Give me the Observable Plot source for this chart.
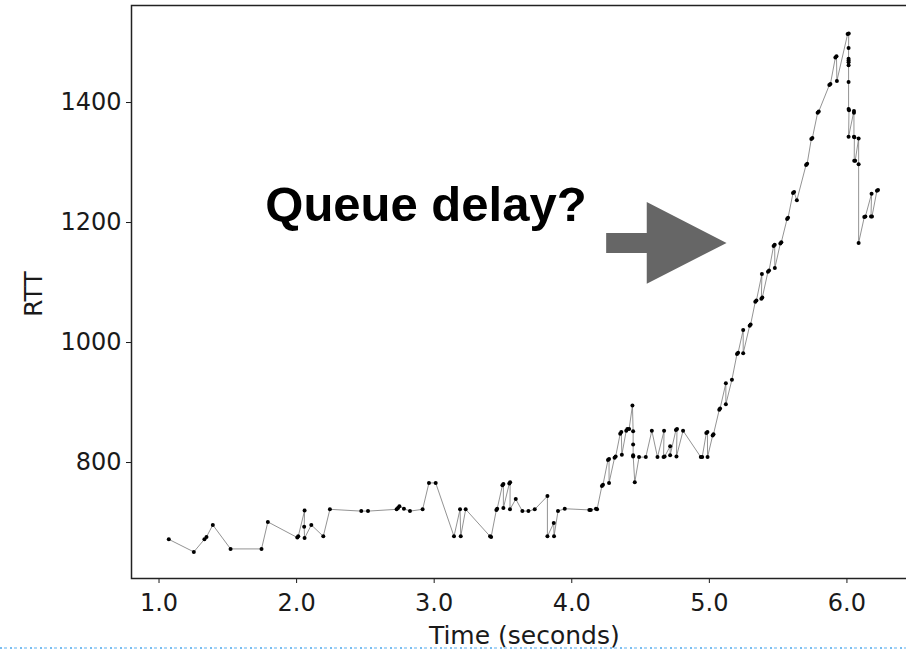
<!DOCTYPE html>
<html>
<head>
<meta charset="utf-8">
<script src="https://cdn.jsdelivr.net/npm/d3@7"></script>
<script src="https://cdn.jsdelivr.net/npm/@observablehq/plot@0.6"></script>
<style>
  html, body { margin: 0; padding: 0; background: #fff; overflow: hidden; }
  #chart { position: relative; width: 906px; height: 651px; overflow: hidden; }
  #chart svg { overflow: hidden; }
  .sel-edge {
    position: absolute; left: 0; top: 647px; width: 906px; height: 2px;
    background: repeating-linear-gradient(90deg, #5fb0ee 0 2px, transparent 2px 4px, #9fd0f5 4px 7px, transparent 7px 10px);
    opacity: 0.85;
  }
</style>
</head>
<body>
<div id="chart"></div>
<script>
// Round-trip time samples (ms) against elapsed time (s), in arrival order.
const time = [
  1.071, 1.253, 1.330, 1.345, 1.391, 1.520, 1.745, 1.791, 2.005, 2.012,
  2.058, 2.055, 2.058, 2.107, 2.194, 2.242, 2.470, 2.519, 2.727, 2.737,
  2.747, 2.780, 2.824, 2.916, 2.962, 3.011, 3.144, 3.188, 3.193, 3.229,
  3.406, 3.414, 3.452, 3.458, 3.496, 3.503, 3.503, 3.546, 3.552, 3.551,
  3.593, 3.641, 3.685, 3.731, 3.823, 3.823, 3.869, 3.871, 3.900, 3.949,
  4.128, 4.138, 4.176, 4.184, 4.219, 4.227, 4.263, 4.271, 4.271, 4.311,
  4.319, 4.352, 4.360, 4.364, 4.396, 4.404, 4.417, 4.441, 4.446, 4.446,
  4.446, 4.446, 4.458, 4.489, 4.538, 4.582, 4.623, 4.671, 4.667, 4.675,
  4.715, 4.715, 4.757, 4.765, 4.761, 4.809, 4.938, 4.948, 4.978, 4.986,
  4.987, 5.024, 5.030, 5.072, 5.078, 5.120, 5.120, 5.164, 5.201, 5.209,
  5.246, 5.246, 5.293, 5.300, 5.334, 5.342, 5.382, 5.378, 5.385, 5.426,
  5.434, 5.467, 5.475, 5.476, 5.516, 5.523, 5.565, 5.572, 5.608, 5.616,
  5.636, 5.703, 5.711, 5.741, 5.749, 5.787, 5.795, 5.872, 5.880, 5.916,
  5.924, 5.927, 6.005, 6.013, 6.012, 6.012, 6.012, 6.012, 6.012, 6.012,
  6.012, 6.015, 6.012, 6.051, 6.051, 6.051, 6.054, 6.053, 6.060, 6.085,
  6.085, 6.085, 6.126, 6.134, 6.179, 6.175, 6.182, 6.218, 6.226
];
const rtt = [
  672, 651, 672, 676, 696, 656, 656, 701, 675, 677,
  720, 693, 674, 696, 677, 722, 719, 719, 722, 724,
  727, 723, 719, 722, 766, 766, 677, 722, 677, 722,
  677, 676, 721, 723, 762, 764, 724, 765, 767, 722,
  739, 719, 719, 722, 744, 677, 699, 677, 719, 723,
  721, 721, 723, 722, 761, 763, 804, 806, 766, 808,
  810, 848, 851, 813, 853, 856, 856, 895, 852, 830,
  810, 812, 767, 809, 809, 853, 809, 853, 809, 810,
  827, 812, 854, 856, 810, 853, 809, 809, 849, 851,
  809, 845, 847, 888, 890, 932, 897, 938, 981, 983,
  1021, 982, 1028, 1030, 1068, 1070, 1114, 1073, 1075, 1118,
  1120, 1161, 1163, 1124, 1165, 1167, 1206, 1208, 1249, 1251,
  1237, 1296, 1298, 1339, 1341, 1383, 1385, 1429, 1431, 1475,
  1477, 1436, 1514, 1515, 1491, 1473, 1470, 1467, 1462, 1434,
  1389, 1387, 1343, 1386, 1383, 1343, 1342, 1303, 1303, 1340,
  1297, 1166, 1209, 1210, 1248, 1210, 1210, 1253, 1254
];

const xTicks = [1, 2, 3, 4, 5, 6];
const yTicks = [800, 1000, 1200, 1400];
const xLabel = "Time (seconds)";
const yLabel = "RTT";

// Callout: text and a block arrow pointing at the ramp.
const noteText = "Queue delay?";
const noteAt = {t: 2.94, rtt: 1228};
const arrowTail = {t: 4.25, rtt: 1166};
const arrowTip = {t: 5.125, rtt: 1166};

const samples = time.map((t, i) => ({t, rtt: rtt[i]}));

// Block arrow outline built from tail/tip, shaft and head proportions.
const headBase = arrowTip.t - 0.58;
const shaftHalf = 16.7, headHalf = 68;
const cy = arrowTail.rtt;
const arrowShape = [
  [arrowTail.t, cy + shaftHalf], [headBase, cy + shaftHalf], [headBase, cy + headHalf],
  [arrowTip.t, arrowTip.rtt], [headBase, cy - headHalf], [headBase, cy - shaftHalf],
  [arrowTail.t, cy - shaftHalf]
].map(([t, r]) => ({t, rtt: r}));

const font = "'DejaVu Sans', sans-serif";

const chart = Plot.plot({
  width: 906,
  height: 651,
  marginLeft: 131,
  marginRight: -10.6,
  marginTop: 5,
  marginBottom: 73,
  style: {fontFamily: font, fontSize: "24px", color: "#1a1a1a", background: "#fff", overflow: "hidden"},
  x: {
    domain: [0.8, 6.51],
    ticks: xTicks,
    tickFormat: d3.format(".1f"),
    tickSize: 5,
    tickPadding: 10,
    label: null
  },
  y: {
    domain: [606.7, 1561.7],
    ticks: yTicks,
    tickFormat: d3.format("d"),
    tickSize: 5,
    tickPadding: 5,
    label: null
  },
  marks: [
    Plot.frame({stroke: "#222", strokeWidth: 1.5}),
    Plot.line(samples, {x: "t", y: "rtt", stroke: "#777", strokeWidth: 0.8}),
    Plot.dot(samples, {x: "t", y: "rtt", r: 2, fill: "#000", stroke: "none"}),
    Plot.line(arrowShape, {x: "t", y: "rtt", fill: "#666", stroke: "none"}),
    Plot.text([noteAt], {
      x: "t", y: "rtt", text: () => noteText,
      fontFamily: "'Liberation Sans', Arial, sans-serif",
      fontWeight: "bold", fontSize: 49, fill: "#000", textAnchor: "middle"
    }),
    Plot.text([xLabel], {frameAnchor: "bottom", dy: 65, fontSize: 25, fill: "#1a1a1a"}),
    Plot.text([yLabel], {frameAnchor: "left", rotate: -90, dx: -98, dy: 25, fontSize: 25, fill: "#1a1a1a"})
  ]
});

const host = document.getElementById("chart");
host.appendChild(chart);
const edge = document.createElement("div");
edge.className = "sel-edge";
host.appendChild(edge);
</script>
</body>
</html>
